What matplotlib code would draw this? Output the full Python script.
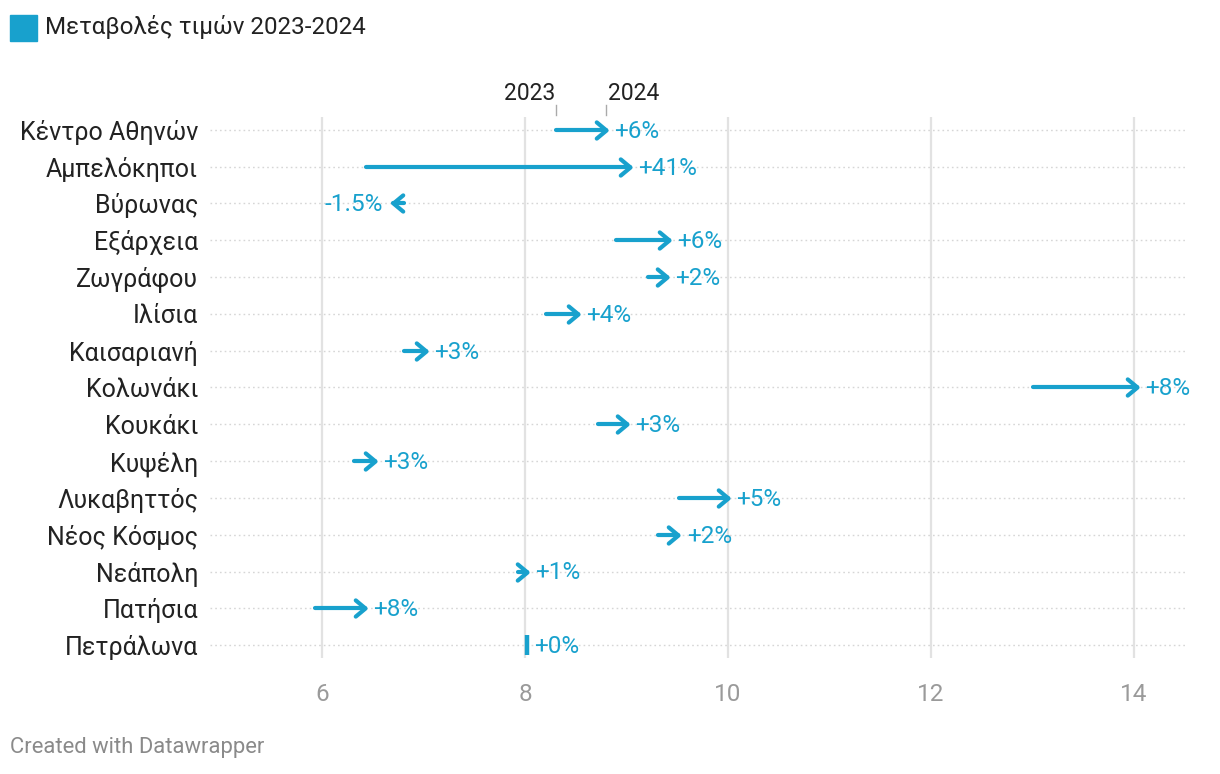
import matplotlib
matplotlib.use("Agg")
import matplotlib.pyplot as plt
from matplotlib.path import Path
from matplotlib.markers import MarkerStyle

plt.rcParams['font.family'] = ['Roboto', 'DejaVu Sans']

categories = ["Κέντρο Αθηνών", "Αμπελόκηποι", "Βύρωνας", "Εξάρχεια", "Ζωγράφου",
              "Ιλίσια", "Καισαριανή", "Κολωνάκι", "Κουκάκι", "Κυψέλη",
              "Λυκαβηττός", "Νέος Κόσμος", "Νεάπολη", "Πατήσια", "Πετράλωνα"]
values_2023 = [8.31, 6.43, 6.81, 8.90, 9.21, 8.21, 6.81, 13.00, 8.72, 6.32, 9.52, 9.31, 7.93, 5.93, 8.02]
values_2024 = [8.80, 9.03, 6.70, 9.42, 9.40, 8.52, 7.02, 14.03, 9.00, 6.52, 10.00, 9.51, 8.02, 6.42, 8.02]
change_labels = ["+6%", "+41%", "-1.5%", "+6%", "+2%", "+4%", "+3%", "+8%", "+3%", "+3%",
                 "+5%", "+2%", "+1%", "+8%", "+0%"]
xticks = [6, 8, 10, 12, 14]
legend_title = "Μεταβολές τιμών 2023-2024"

BLUE = "#18a1cd"
W, H = 1220, 774
fig = plt.figure(figsize=(W / 100, H / 100), dpi=100)
ax = fig.add_axes([210 / W, 1 - 658 / H, (1187 - 210) / W, (658 - 117) / H])

ax.set_xlim(6 + (210 - 322) / 101.5, 6 + (1187 - 322) / 101.5)
ax.set_ylim(len(categories) - 1 + 0.35, -0.35)

for s in ax.spines.values():
    s.set_visible(False)

# gridlines
for xt in xticks:
    ax.axvline(xt, color="#e2e2e2", lw=1.6, zorder=0)
for i in range(len(categories)):
    ax.axhline(i, color="#d6d6d6", lw=1.0, ls=(0, (1.2, 2.2)), zorder=0)

ax.set_xticks(xticks)
ax.set_xticklabels([str(t) for t in xticks])
ax.tick_params(axis='x', length=0, pad=18, labelsize=17.5, labelcolor="#9a9a9a")
ax.set_yticks(range(len(categories)))
ax.set_yticklabels(categories)
ax.tick_params(axis='y', length=0, pad=8.5, labelsize=18, labelcolor="#222222")

codes = [Path.MOVETO, Path.LINETO, Path.LINETO]
right_head = MarkerStyle(Path([(-1.2, 1), (0, 0), (-1.2, -1)], codes), joinstyle='round', capstyle='round')
left_head = MarkerStyle(Path([(1.2, 1), (0, 0), (1.2, -1)], codes), joinstyle='round', capstyle='round')

LBL = 17.5
for i, (a, b, lab) in enumerate(zip(values_2023, values_2024, change_labels)):
    if abs(b - a) < 1e-9:
        ax.plot([a], [i], marker='|', ms=15, mew=3.2, color=BLUE, zorder=3)
        ax.annotate(lab, (b, i), xytext=(5, -1), textcoords='offset points',
                    ha='left', va='center', fontsize=LBL, color=BLUE)
        continue
    ax.plot([a, b], [i, i], color=BLUE, lw=3.0, solid_capstyle='round', zorder=3)
    head = right_head if b > a else left_head
    ax.plot([b], [i], marker=head, ms=14, mew=3.0, mfc='none', mec=BLUE,
            ls='none', zorder=4)
    if b > a:
        ax.annotate(lab, (b, i), xytext=(6, -1), textcoords='offset points',
                    ha='left', va='center', fontsize=LBL, color=BLUE)
    else:
        ax.annotate(lab, (b, i), xytext=(-7, -1), textcoords='offset points',
                    ha='right', va='center', fontsize=LBL, color=BLUE)

# 2023 / 2024 header labels over first row
for xv, ha, lab in [(values_2023[0], 'right', "2023"), (values_2024[0], 'left', "2024")]:
    ax.plot([xv, xv], [-0.68, -0.4], color="#aaaaaa", lw=1.0, clip_on=False, zorder=2)
    ax.annotate(lab, (xv, -0.98), xytext=(-1 if ha == 'right' else 1, 0), textcoords='offset points',
                ha=ha, va='center', fontsize=16.5, color="#222222", annotation_clip=False)

# legend header
fig.patches.append(plt.Rectangle((10 / W, 1 - 41 / H), 27 / W, 26 / H,
                                 transform=fig.transFigure, color=BLUE))
fig.text(45 / W, 1 - 27 / H, legend_title, fontsize=17.4, color="#222222", va='center', ha='left')

fig.text(10 / W, 1 - 748 / H, "Created with Datawrapper", fontsize=15.8, color="#8a8a8a",
         va='center', ha='left')

fig.savefig("out.png", dpi=100)
